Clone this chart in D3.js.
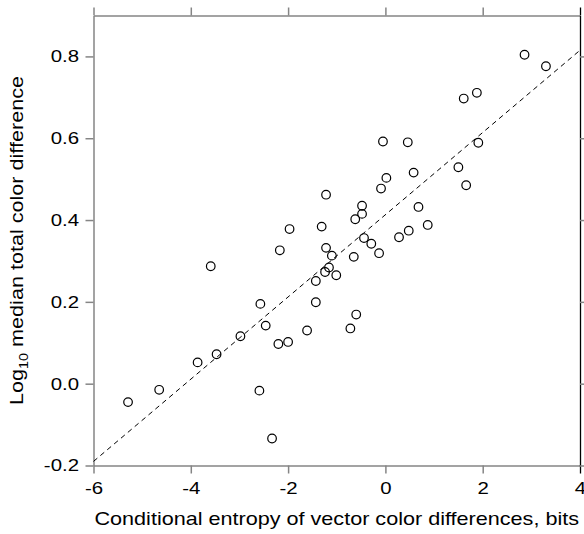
<!DOCTYPE html>
<html>
<head>
<meta charset="utf-8">
<script src="https://d3js.org/d3.v7.min.js"></script>
<style>
  body { margin: 0; background: #fff; }
  svg text { font-family: "Liberation Sans", Arial, Helvetica, sans-serif; fill: #000; }
</style>
</head>
<body>
<div id="chart"></div>
<script>
// Conditional entropy (bits) of each sample
const entropy = [2.86, 3.30, 1.61, 1.88, -0.05, 0.46, 1.91, 1.50, 1.66, 0.58,
                 0.02, -0.09, -1.22, -0.48, -0.48, 0.68, -0.62, 0.87, -1.97, -1.31,
                 0.48, 0.28, -0.44, -0.29, -2.17, -1.22, -1.10, -0.65, -0.13, -3.59,
                 -1.16, -1.24, -1.01, -1.43, -2.57, -1.43, -0.60, -2.46, -1.61, -0.72,
                 -2.98, -2.20, -2.00, -3.47, -3.86, -4.65, -5.29, -2.59, -2.33];
// log10 median total color difference
const logDiff = [0.804, 0.776, 0.697, 0.711, 0.592, 0.590, 0.589, 0.529, 0.485, 0.516,
                 0.503, 0.477, 0.462, 0.435, 0.415, 0.432, 0.402, 0.388, 0.378, 0.384,
                 0.374, 0.358, 0.356, 0.342, 0.326, 0.332, 0.313, 0.310, 0.319, 0.287,
                 0.284, 0.273, 0.265, 0.251, 0.195, 0.199, 0.169, 0.142, 0.130, 0.135,
                 0.116, 0.097, 0.102, 0.072, 0.052, -0.015, -0.045, -0.017, -0.134];
// fitted regression line end points
const fitX = [-6, 4];
const fitY = [-0.19, 0.815];

const xTicks = [-6, -4, -2, 0, 2, 4];
const yTicks = [-0.2, 0.0, 0.2, 0.4, 0.6, 0.8];

const W = 584, H = 534;
const margin = {top: 15.5, right: 4, bottom: 68.5, left: 93.5};
const width = W - margin.left - margin.right,
      height = H - margin.top - margin.bottom;
const axisColor = "#858585";
const stretch = 1.2; // text in the original is drawn wider than normal

const svg = d3.select("#chart").append("svg")
    .attr("width", W)
    .attr("height", H);

const g = svg.append("g")
    .attr("transform", `translate(${margin.left},${margin.top})`);

const x = d3.scaleLinear().domain([-6, 4]).range([0, width]);
const y = d3.scaleLinear().domain([-0.2, 0.9]).range([height, 0]);

// plain hyphen instead of unicode minus
const fmtX = d => d3.format("d")(d).replace("\u2212", "-");
const fmtY = d => d3.format(".1f")(d).replace("\u2212", "-");

function styleAxis(sel) {
    sel.select(".domain").attr("stroke", axisColor).attr("stroke-width", 1.5);
    sel.selectAll(".tick line").attr("stroke", axisColor).attr("stroke-width", 1.5);
    sel.selectAll(".tick text").style("font-size", "17px").attr("fill", "#000");
}

// bottom
const xb = g.append("g")
    .attr("transform", `translate(0,${height})`)
    .call(d3.axisBottom(x).tickValues(xTicks).tickSize(8).tickSizeOuter(0).tickPadding(8).tickFormat(fmtX))
    .call(styleAxis);
xb.selectAll(".tick text").attr("transform", `scale(${stretch},1)`);

// top
g.append("g")
    .call(d3.axisTop(x).tickValues(xTicks).tickSize(8).tickSizeOuter(0).tickFormat(""))
    .call(styleAxis);

// left
const yl0 = g.append("g")
    .call(d3.axisLeft(y).tickValues(yTicks).tickSize(8).tickSizeOuter(0).tickFormat(fmtY))
    .call(styleAxis);
yl0.selectAll(".tick text")
    .attr("x", -14.5 / stretch)
    .attr("transform", `scale(${stretch},1)`);

// right
const yr = g.append("g")
    .attr("transform", `translate(${width},0)`)
    .call(d3.axisRight(y).tickValues(yTicks).tickSize(8).tickSizeOuter(0).tickFormat(""))
    .call(styleAxis);
yr.select(".domain").attr("stroke", "#000").attr("stroke-width", 1.3);

// the x=4 ticks join the right border and are black
g.selectAll(".tick").filter(d => d === 4).select("line")
    .attr("stroke", "#000").attr("stroke-width", 1.3);

// fitted dashed line
g.append("path")
    .datum(d3.zip(fitX, fitY))
    .attr("fill", "none")
    .attr("stroke", "#000")
    .attr("stroke-width", 1)
    .attr("stroke-dasharray", "5,4")
    .attr("d", d3.line().x(d => x(d[0])).y(d => y(d[1])));

// points
g.selectAll(".dot")
    .data(d3.zip(entropy, logDiff))
    .join("circle")
    .attr("class", "dot")
    .attr("cx", d => x(d[0]))
    .attr("cy", d => y(d[1]))
    .attr("r", 4.3)
    .attr("fill", "none")
    .attr("stroke", "#000")
    .attr("stroke-width", 1.2);

// x label
svg.append("text")
    .attr("transform", `translate(${margin.left + width / 2},525) scale(${stretch},1)`)
    .attr("text-anchor", "middle")
    .style("font-size", "18px")
    .text("Conditional entropy of vector color differences, bits");

// y label with subscript
const yl = svg.append("text")
    .attr("transform", `translate(23,${margin.top + height / 2}) rotate(-90) scale(${stretch},1)`)
    .attr("text-anchor", "middle")
    .style("font-size", "18px");
yl.append("tspan").text("Log");
yl.append("tspan").attr("dy", 5).style("font-size", "12px").text("10");
yl.append("tspan").attr("dy", -5).text(" median total color difference");
</script>
</body>
</html>
